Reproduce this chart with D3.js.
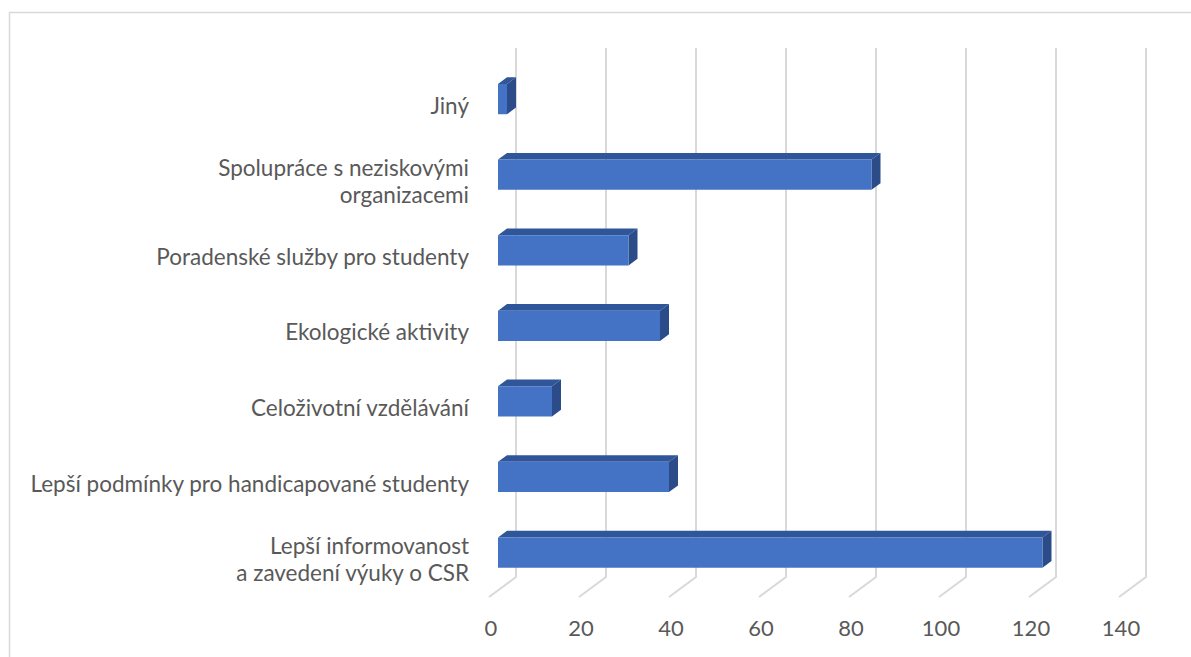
<!DOCTYPE html>
<html>
<head>
<meta charset="utf-8">
<script src="https://cdn.jsdelivr.net/npm/d3@7/dist/d3.min.js"></script>
<style>
  html, body { margin: 0; padding: 0; background: #ffffff; }
  svg { display: block; }
  text { font-family: Lato, "Open Sans", sans-serif; fill: #595959; }
</style>
</head>
<body>
<svg id="chart" width="1191" height="657"></svg>
<script>
// ---- data (top to bottom as shown) ----
const categories = [
  ["Jiný"],
  ["Spolupráce s neziskovými", "organizacemi"],
  ["Poradenské služby pro studenty"],
  ["Ekologické aktivity"],
  ["Celoživotní vzdělávání"],
  ["Lepší podmínky pro handicapované studenty"],
  ["Lepší informovanost", "a zavedení výuky o CSR"]
];
const values = [2, 83, 29, 36, 12, 38, 121];
const tickValues = [0, 20, 40, 60, 80, 100, 120, 140];

// ---- layout ----
const backLeft = 516, backRight = 1146;  // x of 0 and 140 on back wall
const wallTop = 48, wallBottom = 577;
const depthDX = -27, depthDY = 20;       // full floor depth offset
const svg = d3.select("#chart");

// chart area border
svg.append("rect")
  .attr("x", 9.5).attr("y", 12.5)
  .attr("width", 1300).attr("height", 800)
  .attr("fill", "#fff").attr("stroke", "#d9d9d9").attr("stroke-width", 1.5);

const x = d3.scaleLinear().domain([0, 140]).range([backLeft, backRight]);
const keys = categories.map((c, i) => i);
const y = d3.scaleBand().domain(keys).range([wallTop, wallBottom]).paddingInner(0).paddingOuter(0);

const proj = (v, yy, d) => [x(v) + depthDX * d, yy + depthDY * d];

// gridlines: back wall + floor
const grid = svg.append("g");
tickValues.forEach(t => {
  const p1 = proj(t, wallTop, 0), p2 = proj(t, wallBottom, 0), p3 = proj(t, wallBottom, 1);
  grid.append("path")
    .attr("d", `M${p1[0]},${p1[1]}L${p2[0]},${p2[1]}L${p3[0]},${p3[1]}`)
    .attr("fill", "none").attr("stroke", "#d9d9d9").attr("stroke-width", 2);
});

// tick labels
svg.append("g").selectAll("text").data(tickValues).join("text")
  .attr("x", t => proj(t, wallBottom, 1)[0] + 2)
  .attr("y", 636)
  .attr("text-anchor", "middle")
  .attr("font-size", 22)
  .text(t => t);

// bars
const barH = y.bandwidth() * 0.4;
const dFront = 2 / 3, dBack = 1 / 3;
const bars = svg.append("g");
keys.forEach(i => {
  const v = values[i];
  const yc = y(i) + y.bandwidth() / 2;
  const top = yc - barH / 2, bot = yc + barH / 2;
  const ftl = proj(0, top, dFront), ftr = proj(v, top, dFront), fbr = proj(v, bot, dFront), fbl = proj(0, bot, dFront);
  const btl = proj(0, top, dBack), btr = proj(v, top, dBack), bbr = proj(v, bot, dBack);
  const poly = pts => "M" + pts.map(p => p.join(",")).join("L") + "Z";
  bars.append("path").attr("d", poly([ftl, ftr, btr, btl])).attr("fill", "#30569a");
  bars.append("path").attr("d", poly([ftr, btr, bbr, fbr])).attr("fill", "#2b4c88");
  bars.append("path").attr("d", poly([ftl, ftr, fbr, fbl])).attr("fill", "#4472c4");
});

// category labels
const labels = svg.append("g");
keys.forEach(i => {
  const yc = y(i) + y.bandwidth() / 2 + 20;
  const lines = categories[i];
  const lh = 27;
  lines.forEach((ln, j) => {
    labels.append("text")
      .attr("x", 469)
      .attr("y", yc + (j - (lines.length - 1) / 2) * lh)
      .attr("dy", "0.35em")
      .attr("text-anchor", "end")
      .attr("font-size", 22.5)
      .text(ln);
  });
});
</script>
</body>
</html>
